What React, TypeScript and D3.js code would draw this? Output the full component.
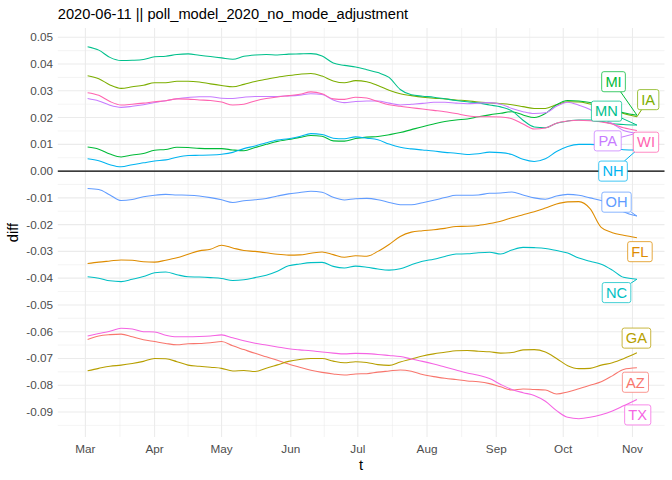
import React from "react";
import * as d3 from "d3";

const dates = [
  "2020-03-02","2020-03-07","2020-03-12","2020-03-17","2020-03-22","2020-03-27",
  "2020-04-01","2020-04-06","2020-04-11","2020-04-16","2020-04-21","2020-04-26",
  "2020-05-01","2020-05-06","2020-05-11","2020-05-16","2020-05-21","2020-05-26","2020-05-31",
  "2020-06-05","2020-06-10","2020-06-15","2020-06-20","2020-06-25","2020-06-30",
  "2020-07-05","2020-07-10","2020-07-15","2020-07-20","2020-07-25","2020-07-30",
  "2020-08-04","2020-08-09","2020-08-14","2020-08-19","2020-08-24","2020-08-29",
  "2020-09-03","2020-09-08","2020-09-13","2020-09-18","2020-09-23","2020-09-28",
  "2020-10-03","2020-10-08","2020-10-13","2020-10-18","2020-10-23","2020-10-28","2020-11-03",
];

const states = ["AZ", "FL", "GA", "IA", "MI", "MN", "NC", "NH", "OH", "PA", "TX", "WI"];

const AZ = [-0.0629,-0.0616,-0.0611,-0.0609,-0.0619,-0.0630,-0.0637,-0.0644,-0.0649,-0.0645,-0.0644,-0.0641,-0.0637,-0.0653,-0.0667,-0.0681,-0.0694,-0.0707,-0.0721,-0.0733,-0.0744,-0.0752,-0.0758,-0.0762,-0.0758,-0.0757,-0.0751,-0.0747,-0.0743,-0.0748,-0.0760,-0.0768,-0.0774,-0.0779,-0.0784,-0.0787,-0.0794,-0.0806,-0.0818,-0.0814,-0.0816,-0.0818,-0.0833,-0.0825,-0.0813,-0.0800,-0.0787,-0.0765,-0.0741,-0.0735];
const FL = [-0.0345,-0.0340,-0.0336,-0.0332,-0.0333,-0.0339,-0.0340,-0.0333,-0.0324,-0.0311,-0.0298,-0.0292,-0.0277,-0.0287,-0.0297,-0.0300,-0.0305,-0.0311,-0.0314,-0.0313,-0.0307,-0.0302,-0.0312,-0.0322,-0.0316,-0.0318,-0.0300,-0.0274,-0.0244,-0.0228,-0.0223,-0.0219,-0.0214,-0.0207,-0.0206,-0.0203,-0.0196,-0.0187,-0.0174,-0.0163,-0.0152,-0.0138,-0.0123,-0.0115,-0.0114,-0.0140,-0.0210,-0.0230,-0.0240,-0.0249];
const GA = [-0.0746,-0.0737,-0.0729,-0.0725,-0.0719,-0.0711,-0.0700,-0.0701,-0.0712,-0.0725,-0.0729,-0.0733,-0.0737,-0.0747,-0.0745,-0.0749,-0.0737,-0.0724,-0.0711,-0.0704,-0.0700,-0.0700,-0.0710,-0.0716,-0.0712,-0.0715,-0.0723,-0.0726,-0.0713,-0.0702,-0.0691,-0.0683,-0.0677,-0.0671,-0.0670,-0.0673,-0.0675,-0.0680,-0.0678,-0.0668,-0.0667,-0.0676,-0.0700,-0.0727,-0.0738,-0.0737,-0.0725,-0.0716,-0.0701,-0.0679];
const IA = [0.0356,0.0345,0.0322,0.0309,0.0315,0.0321,0.0330,0.0330,0.0336,0.0336,0.0333,0.0326,0.0320,0.0315,0.0324,0.0335,0.0343,0.0351,0.0357,0.0362,0.0365,0.0355,0.0337,0.0330,0.0338,0.0334,0.0320,0.0302,0.0289,0.0282,0.0276,0.0272,0.0270,0.0266,0.0263,0.0258,0.0255,0.0252,0.0248,0.0241,0.0234,0.0234,0.0248,0.0259,0.0258,0.0251,0.0243,0.0230,0.0215,0.0203];
const MI = [0.0090,0.0082,0.0064,0.0053,0.0060,0.0066,0.0078,0.0081,0.0089,0.0088,0.0085,0.0084,0.0084,0.0079,0.0076,0.0088,0.0100,0.0111,0.0118,0.0126,0.0133,0.0130,0.0113,0.0112,0.0122,0.0127,0.0129,0.0136,0.0144,0.0155,0.0166,0.0176,0.0185,0.0191,0.0195,0.0203,0.0210,0.0216,0.0222,0.0210,0.0200,0.0215,0.0248,0.0264,0.0262,0.0256,0.0245,0.0232,0.0218,0.0209];
const MN = [0.0465,0.0452,0.0425,0.0413,0.0414,0.0417,0.0427,0.0429,0.0436,0.0438,0.0433,0.0428,0.0423,0.0418,0.0429,0.0434,0.0436,0.0434,0.0437,0.0438,0.0439,0.0430,0.0404,0.0395,0.0389,0.0379,0.0368,0.0350,0.0305,0.0285,0.0280,0.0276,0.0270,0.0264,0.0259,0.0255,0.0247,0.0240,0.0225,0.0190,0.0165,0.0162,0.0179,0.0187,0.0191,0.0191,0.0186,0.0177,0.0174,0.0172];
const NC = [-0.0395,-0.0400,-0.0410,-0.0413,-0.0404,-0.0394,-0.0380,-0.0377,-0.0387,-0.0395,-0.0396,-0.0398,-0.0401,-0.0409,-0.0406,-0.0398,-0.0389,-0.0374,-0.0354,-0.0347,-0.0342,-0.0341,-0.0356,-0.0362,-0.0355,-0.0359,-0.0366,-0.0370,-0.0365,-0.0350,-0.0337,-0.0329,-0.0319,-0.0310,-0.0309,-0.0305,-0.0303,-0.0310,-0.0295,-0.0285,-0.0286,-0.0289,-0.0297,-0.0306,-0.0325,-0.0337,-0.0348,-0.0370,-0.0397,-0.0404];
const NH = [0.0046,0.0039,0.0024,0.0016,0.0024,0.0031,0.0038,0.0042,0.0052,0.0058,0.0059,0.0060,0.0063,0.0070,0.0084,0.0094,0.0106,0.0116,0.0121,0.0129,0.0140,0.0137,0.0123,0.0121,0.0128,0.0123,0.0117,0.0101,0.0089,0.0083,0.0079,0.0075,0.0070,0.0067,0.0062,0.0065,0.0071,0.0069,0.0062,0.0044,0.0036,0.0046,0.0073,0.0092,0.0100,0.0100,0.0097,0.0087,0.0080,0.0079];
const OH = [-0.0065,-0.0069,-0.0089,-0.0110,-0.0106,-0.0096,-0.0090,-0.0087,-0.0089,-0.0090,-0.0093,-0.0099,-0.0107,-0.0117,-0.0111,-0.0107,-0.0102,-0.0093,-0.0085,-0.0080,-0.0075,-0.0079,-0.0098,-0.0108,-0.0103,-0.0102,-0.0107,-0.0117,-0.0126,-0.0126,-0.0118,-0.0109,-0.0099,-0.0090,-0.0090,-0.0089,-0.0083,-0.0082,-0.0078,-0.0089,-0.0100,-0.0105,-0.0093,-0.0087,-0.0090,-0.0100,-0.0110,-0.0125,-0.0152,-0.0168];
const PA = [0.0271,0.0262,0.0246,0.0238,0.0242,0.0248,0.0256,0.0263,0.0270,0.0275,0.0278,0.0278,0.0272,0.0271,0.0276,0.0279,0.0279,0.0279,0.0281,0.0284,0.0289,0.0286,0.0266,0.0256,0.0260,0.0262,0.0262,0.0254,0.0247,0.0250,0.0253,0.0257,0.0257,0.0254,0.0252,0.0254,0.0256,0.0250,0.0234,0.0222,0.0215,0.0218,0.0242,0.0257,0.0246,0.0230,0.0200,0.0178,0.0152,0.0142];
const TX = [-0.0616,-0.0607,-0.0598,-0.0587,-0.0590,-0.0600,-0.0601,-0.0613,-0.0619,-0.0619,-0.0618,-0.0616,-0.0612,-0.0623,-0.0634,-0.0643,-0.0650,-0.0657,-0.0664,-0.0668,-0.0671,-0.0676,-0.0680,-0.0683,-0.0681,-0.0682,-0.0685,-0.0689,-0.0693,-0.0702,-0.0711,-0.0721,-0.0732,-0.0743,-0.0754,-0.0763,-0.0775,-0.0797,-0.0816,-0.0828,-0.0838,-0.0860,-0.0895,-0.0920,-0.0925,-0.0920,-0.0910,-0.0896,-0.0877,-0.0853];
const WI = [0.0293,0.0283,0.0260,0.0247,0.0250,0.0254,0.0259,0.0263,0.0270,0.0269,0.0266,0.0264,0.0258,0.0247,0.0250,0.0262,0.0271,0.0277,0.0282,0.0287,0.0296,0.0289,0.0270,0.0268,0.0276,0.0273,0.0260,0.0248,0.0242,0.0237,0.0232,0.0227,0.0222,0.0215,0.0207,0.0203,0.0203,0.0202,0.0196,0.0176,0.0157,0.0161,0.0179,0.0187,0.0190,0.0188,0.0184,0.0176,0.0162,0.0152];

const seriesValues: Record<string, number[]> = { AZ, FL, GA, IA, MI, MN, NC, NH, OH, PA, TX, WI };

const palette = ["#F8766D", "#DE8C00", "#B79F00", "#7CAE00", "#00BA38", "#00C08B", "#00BFC4", "#00B4F0", "#619CFF", "#C77CFF", "#F564E3", "#FF64B0"];

const yTicks = [0.05, 0.04, 0.03, 0.02, 0.01, 0, -0.01, -0.02, -0.03, -0.04, -0.05, -0.06, -0.07, -0.08, -0.09];
const xTickDates = ["2020-03-01","2020-04-01","2020-05-01","2020-06-01","2020-07-01","2020-08-01","2020-09-01","2020-10-01","2020-11-01"];
const xTickLabels = ["Mar", "Apr", "May", "Jun", "Jul", "Aug", "Sep", "Oct", "Nov"];

const titleText = "2020-06-11 || poll_model_2020_no_mode_adjustment";

// repelled label placement: [x offset from series end (px), label centre value]
const labelPlacement: Record<string, [number, number]> = {
  MI: [-23.4, 0.0334], IA: [11.3, 0.0267], MN: [-30.4, 0.0224], PA: [-29.2, 0.0113],
  WI: [9.1, 0.0108], NH: [-23.9, 0.0], OH: [-20.4, -0.0116], FL: [3, -0.0301],
  NC: [-20.4, -0.0454], GA: [-0.5, -0.0624], AZ: [-1.5, -0.0789], TX: [0.8, -0.0911],
};

const W = 672, H = 480;
const P = { left: 57.8, right: 664.5, top: 28, bottom: 437 };
const FONT = "'Liberation Sans', Arial, Helvetica, sans-serif";
const DAY = 86400000;

function textW(s: string, size: number) {
  const wmap: Record<string, number> = { M: 0.833, I: 0.278, A: 0.667, N: 0.722, P: 0.667, W: 0.944, H: 0.722, O: 0.778, F: 0.611, L: 0.556, C: 0.722, G: 0.778, Z: 0.611, T: 0.611, X: 0.667 };
  return s.split("").reduce((a, c) => a + (wmap[c] ?? 0.6), 0) * size;
}

export default function App() {
  const parse = (s: string) => new Date(s + "T00:00:00Z");
  const t = dates.map(parse);
  const x = d3.scaleUtc()
    .domain([new Date(Date.UTC(2020, 2, 1) - 12.35 * DAY), new Date(Date.UTC(2020, 10, 3) + 12.35 * DAY)])
    .range([P.left, P.right]);
  const y = d3.scaleLinear().domain([-0.09935, 0.05347]).range([P.bottom, P.top]);

  const majorX = xTickDates.map(parse);
  const minorX: Date[] = [];
  for (let i = 0; i < majorX.length - 1; i++) {
    minorX.push(new Date((majorX[i].getTime() + majorX[i + 1].getTime()) / 2));
  }
  const minorY: number[] = [];
  for (let i = 0; i < yTicks.length; i++) minorY.push(yTicks[i] - 0.005);

  const line = d3.line<number>()
    .x((_, i) => x(t[i]))
    .y((v) => y(v))
    .curve(d3.curveMonotoneX);

  const fs = 14.67;
  const pad = 3.7;

  return (
    <svg width={W} height={H} style={{ position: "absolute", left: 0, top: 0, background: "#fff" }} fontFamily={FONT}>
      <rect x={0} y={0} width={W} height={H} fill="#fff" />
      {minorY.map((v, i) => (
        <line key={"my" + i} x1={P.left} x2={P.right} y1={y(v)} y2={y(v)} stroke="#EBEBEB" strokeWidth={0.53} />
      ))}
      {minorX.map((d, i) => (
        <line key={"mx" + i} x1={x(d)} x2={x(d)} y1={P.top} y2={P.bottom} stroke="#EBEBEB" strokeWidth={0.53} />
      ))}
      {yTicks.map((v, i) => (
        <line key={"gy" + i} x1={P.left} x2={P.right} y1={y(v)} y2={y(v)} stroke="#EBEBEB" strokeWidth={1.07} />
      ))}
      {majorX.map((d, i) => (
        <line key={"gx" + i} x1={x(d)} x2={x(d)} y1={P.top} y2={P.bottom} stroke="#EBEBEB" strokeWidth={1.07} />
      ))}
      <line x1={P.left} x2={P.right} y1={y(0)} y2={y(0)} stroke="#000" strokeWidth={1.07} />
      {states.map((s, k) => (
        <path key={s} d={line(seriesValues[s]) || ""} fill="none" stroke={palette[k]} strokeWidth={1.07} strokeLinejoin="round" />
      ))}
      {states.map((s, k) => {
        const vals = seriesValues[s];
        const ex = x(t[t.length - 1]);
        const ey = y(vals[vals.length - 1]);
        const [dx, lv] = labelPlacement[s];
        const cx = ex + dx;
        const cy = y(lv);
        const bw = textW(s, fs) + 2 * pad;
        const bh = fs + 2 * pad - 2;
        const vx = ex - cx, vy = ey - cy;
        const tx = vx !== 0 ? (bw / 2) / Math.abs(vx) : Infinity;
        const ty = vy !== 0 ? (bh / 2) / Math.abs(vy) : Infinity;
        const te = Math.min(tx, ty);
        let seg = null;
        if (te < 1) {
          const sx = cx + vx * te, sy = cy + vy * te;
          const len = Math.hypot(ex - sx, ey - sy);
          if (len > 6.8) seg = <line x1={sx} y1={sy} x2={ex} y2={ey} stroke={palette[k]} strokeWidth={1} />;
        }
        return (
          <g key={"lab" + s}>
            {seg}
            <rect x={cx - bw / 2} y={cy - bh / 2} width={bw} height={bh} rx={2.2} ry={2.2} fill="#fff" stroke={palette[k]} strokeOpacity={0.75} strokeWidth={1} />
            <text x={cx} y={cy + fs * 0.36} textAnchor="middle" fontSize={fs} fill={palette[k]}>{s}</text>
          </g>
        );
      })}
      {yTicks.map((v, i) => (
        <text key={"yt" + i} x={53} y={y(v) + 4} textAnchor="end" fontSize={11.73} fill="#4D4D4D">{v.toFixed(2)}</text>
      ))}
      {majorX.map((d, i) => (
        <text key={"xt" + i} x={x(d)} y={453} textAnchor="middle" fontSize={11.73} fill="#4D4D4D">{xTickLabels[i]}</text>
      ))}
      <text x={(P.left + P.right) / 2} y={469.5} textAnchor="middle" fontSize={14.67} fill="#000">t</text>
      <text transform={`translate(17.5, ${(P.top + P.bottom) / 2}) rotate(-90)`} textAnchor="middle" fontSize={14.67} fill="#000">diff</text>
      <text x={P.left} y={18.5} fontSize={14.67} fill="#000">{titleText}</text>
    </svg>
  );
}
